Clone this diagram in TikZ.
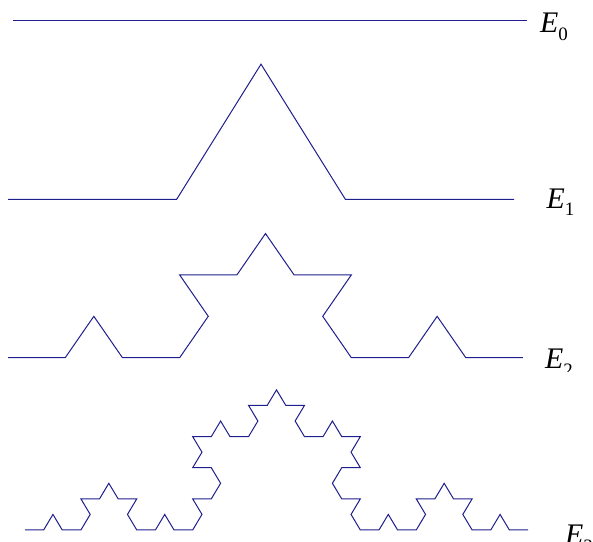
\documentclass[tikz,border=0pt]{standalone}
\usepackage{fontspec}
\setmainfont{Liberation Serif}
\usepackage{xcolor}
\usepackage{tikz}
\usetikzlibrary{lindenmayersystems}

\definecolor{kochblue}{RGB}{30,30,140}
\pgfdeclarelindenmayersystem{Koch}{\rule{F -> F+F--F+F}}
\newcommand{\lblsub}[1]{\raisebox{-7.5bp}{\fontsize{19}{19}\selectfont #1}}

\begin{document}
\begin{tikzpicture}[
  x=1bp, y=1bp,
  curve/.style={draw=kochblue, line width=1bp},
  lbl/.style={anchor=base west, inner sep=0pt, font=\fontsize{30}{30}\selectfont},
]
  \clip (0,0) rectangle (593,542);

  \draw[curve] (13,521) -- (527,521);
  \begin{scope}[shift={(8,342.7)}, yscale=0.925]
    \draw[curve, l-system={Koch, axiom=F, order=1, step=168.67bp, angle=60}] lindenmayer system;
  \end{scope}
  \begin{scope}[shift={(8,184.3)}, yscale=0.835]
    \draw[curve, l-system={Koch, axiom=F, order=2, step=57.22bp, angle=60}] lindenmayer system;
  \end{scope}
  \begin{scope}[shift={(25,12)}, yscale=0.965]
    \draw[curve, l-system={Koch, axiom=F, order=3, step=18.63bp, angle=60}] lindenmayer system;
  \end{scope}

  \node[lbl] (e0) at (540,509) {\textit{E}\lblsub{0}};
  \node[lbl] (e1) at (546.5,333.7) {\textit{E}\lblsub{1}};
  \begin{scope}
    \clip (0,170) rectangle (593,542);
    \node[lbl] (e2) at (545,173) {\textit{E}\lblsub{2}};
  \end{scope}
  \node[lbl] (e3) at (565,-3) {\textit{E}\lblsub{3}};
\end{tikzpicture}
\end{document}
